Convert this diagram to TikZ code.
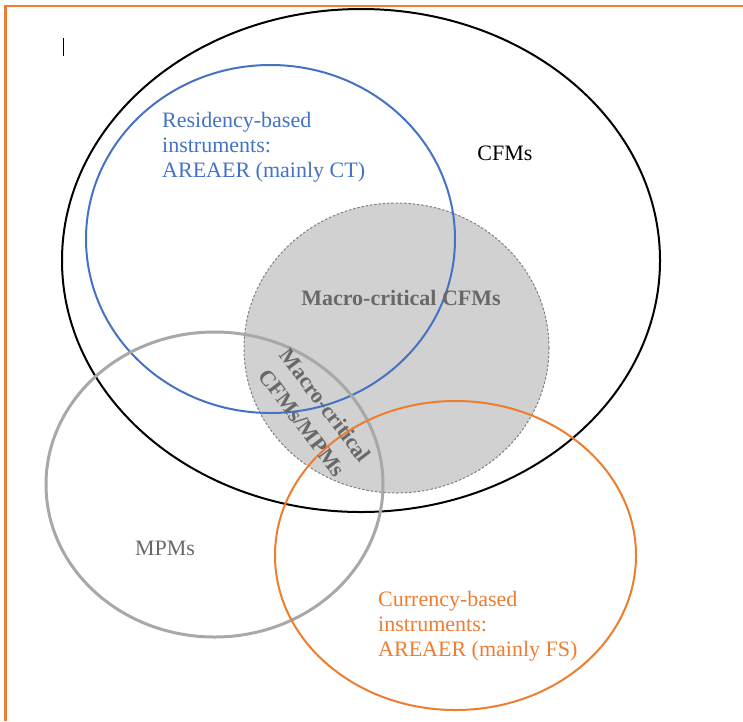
\documentclass[tikz,border=0pt]{standalone}
\usepackage{fontspec}
\setmainfont{Liberation Serif}

\definecolor{resblue}{RGB}{68,114,196}
\definecolor{curorange}{RGB}{237,125,49}
\definecolor{mpmgrey}{RGB}{168,168,168}
\definecolor{macrofill}{RGB}{209,209,209}
\definecolor{macroline}{RGB}{128,128,128}
\definecolor{macrotext}{RGB}{104,104,104}

\tikzset{
	setlabel/.style={font=\fontsize{22}{25}\selectfont,align=left,inner sep=0pt},
	boldlabel/.style={setlabel,font=\fontsize{22}{25}\selectfont\bfseries,text=macrotext},
}

\begin{document}
\begin{tikzpicture}[x=1pt,y=-1pt]
	\useasboundingbox (0,0) rectangle (743,721);
	\draw[curorange,line width=2.8pt] (743,6) -- (5.5,6) -- (5.5,721);
	\draw[line width=0.8pt] (63,38) -- (63,56);

	\filldraw[fill=macrofill,draw=macroline,line width=1pt,dash pattern=on 2.5pt off 1.8pt]
		(396.5,348) ellipse [x radius=152.5pt,y radius=145pt];
	\draw[line width=2pt] (361,260.5) ellipse [x radius=299pt,y radius=251.5pt];
	\draw[resblue,line width=2pt] (270.5,239) ellipse [x radius=184.5pt,y radius=174pt];
	\draw[mpmgrey,line width=3pt] (214.5,484.5) ellipse [x radius=168.5pt,y radius=152.5pt];
	\draw[curorange,line width=2pt] (455.5,555.5) ellipse [x radius=180.5pt,y radius=154.5pt];

	\node[setlabel,text=resblue,anchor=west] (resid) at (162,147) {Residency-based\\instruments:\\AREAER (mainly CT)};
	\node[setlabel] (cfm) at (505,153) {CFMs};
	\node[boldlabel] (macro) at (401,298) {Macro-critical CFMs};
	\node[boldlabel,align=center,rotate=-53] (overlap) at (314,414) {Macro-critical\\[4pt]CFMs/MPMs};
	\node[setlabel,text=macrotext] (mpm) at (165,548) {MPMs};
	\node[setlabel,text=curorange,anchor=west] (curr) at (378,626) {Currency-based\\instruments:\\AREAER (mainly FS)};
\end{tikzpicture}
\end{document}
